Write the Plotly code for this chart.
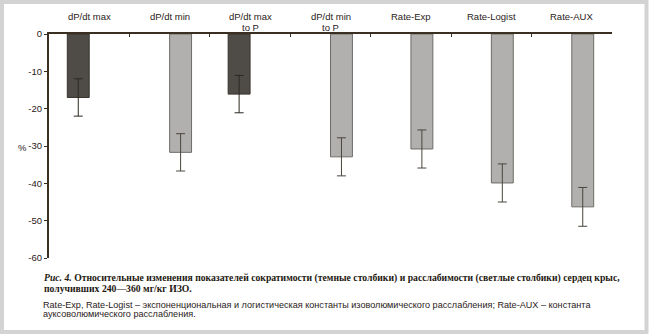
import plotly.graph_objects as go

categories = ["dP/dt max", "dP/dt min", "dP/dt max<br>to P", "dP/dt min<br>to P",
              "Rate-Exp", "Rate-Logist", "Rate-AUX"]
# contractility (dark bars) and relaxation (light bars), % change
dark_values = [-17.0, None, -16.1, None, None, None, None]
dark_errors = [5.0, None, 5.0, None, None, None, None]
light_values = [None, -31.7, None, -32.9, -30.8, -39.9, -46.3]
light_errors = [None, 5.0, None, 5.1, 5.1, 5.1, 5.2]
y_ticks = [0, -10, -20, -30, -40, -50, -60]

caption1 = ("<b><i>Рис. 4.</i> Относительные изменения показателей сократимости (темные столбики) "
            "и расслабимости (светлые столбики) сердец крыс,</b>")
caption2 = "<b>получивших 240—360 мг/кг ИЗО.</b>"
note1 = ("Rate-Exp, Rate-Logist – экспоненциональная и логистическая константы изоволюмического "
         "расслабления; Rate-AUX – константа")
note2 = "ауксоволюмического расслабления."

W, H = 650, 336
L, R, T, B = 49, 38, 34, 78
PW, PH = W - L - R, H - T - B


def px(x):
    return (x - L) / PW


def py(y):
    return (H - B - y) / PH


AX = "#3b2f22"
TXT = "#2a2118"

fig = go.Figure()
fig.add_trace(go.Bar(
    x=categories, y=dark_values, name="dark",
    marker=dict(color="#4f4c47", line=dict(color="#37332d", width=1)),
    error_y=dict(type="data", array=dark_errors, visible=True, color="#2d2820",
                 thickness=1, width=4.5),
))
fig.add_trace(go.Bar(
    x=categories, y=light_values, name="light",
    marker=dict(color="#b1b0ae", line=dict(color="#6e6c68", width=1)),
    error_y=dict(type="data", array=light_errors, visible=True, color="#4a463e",
                 thickness=1, width=4.5),
))

annotations = []
line_y = [16, 27]
for c in categories:
    for i, part in enumerate(c.split("<br>")):
        annotations.append(dict(x=c, xref="x", y=py(line_y[i]), yref="paper", text=part,
                                showarrow=False, xanchor="center", yanchor="middle",
                                font=dict(family="Liberation Sans", size=9.5, color=TXT)))
annotations.append(dict(x=px(22), xref="paper", y=-30.5, yref="y", text="%", showarrow=False,
                        xanchor="center", yanchor="middle",
                        font=dict(family="Liberation Sans", size=9.5, color=TXT)))
annotations.append(dict(x=px(42), xref="paper", y=py(277.5), yref="paper", text=caption1,
                        showarrow=False, xanchor="left", yanchor="middle",
                        font=dict(family="Liberation Serif", size=9.7, color="#1e1810")))
annotations.append(dict(x=px(42), xref="paper", y=py(288.5), yref="paper", text=caption2,
                        showarrow=False, xanchor="left", yanchor="middle",
                        font=dict(family="Liberation Serif", size=9.7, color="#1e1810")))
annotations.append(dict(x=px(41), xref="paper", y=py(304.5), yref="paper", text=note1,
                        showarrow=False, xanchor="left", yanchor="middle",
                        font=dict(family="Liberation Sans", size=9.1, color=TXT)))
annotations.append(dict(x=px(41), xref="paper", y=py(313.5), yref="paper", text=note2,
                        showarrow=False, xanchor="left", yanchor="middle",
                        font=dict(family="Liberation Sans", size=9.1, color=TXT)))

fig.update_layout(
    width=W, height=H,
    margin=dict(l=L, r=R, t=T, b=B),
    paper_bgcolor="white", plot_bgcolor="white",
    barmode="group", bargap=0.455, bargroupgap=0,
    showlegend=False,
    annotations=annotations,
    shapes=[dict(type="rect", xref="paper", yref="paper",
                 x0=px(2), x1=px(646.5), y0=py(2), y1=py(332),
                 line=dict(color="#d3d3d3", width=4), fillcolor="rgba(0,0,0,0)",
                 layer="below")],
    xaxis=dict(side="top", range=[-0.5, 6.5], showgrid=False, zeroline=False,
               showline=True, linecolor=AX, linewidth=2,
               ticks="inside", tickson="boundaries", ticklen=3, tickcolor=AX, tickwidth=1,
               showticklabels=False, fixedrange=True),
    yaxis=dict(range=[-60, 0], tickvals=y_ticks, ticktext=[str(v) for v in y_ticks],
               showgrid=False, zeroline=False, showline=True, linecolor=AX, linewidth=2,
               ticks="outside", ticklen=3, tickcolor=AX, tickwidth=1,
               tickfont=dict(family="Liberation Sans", size=9.5, color=TXT),
               fixedrange=True),
)

fig.write_html("out.html")
